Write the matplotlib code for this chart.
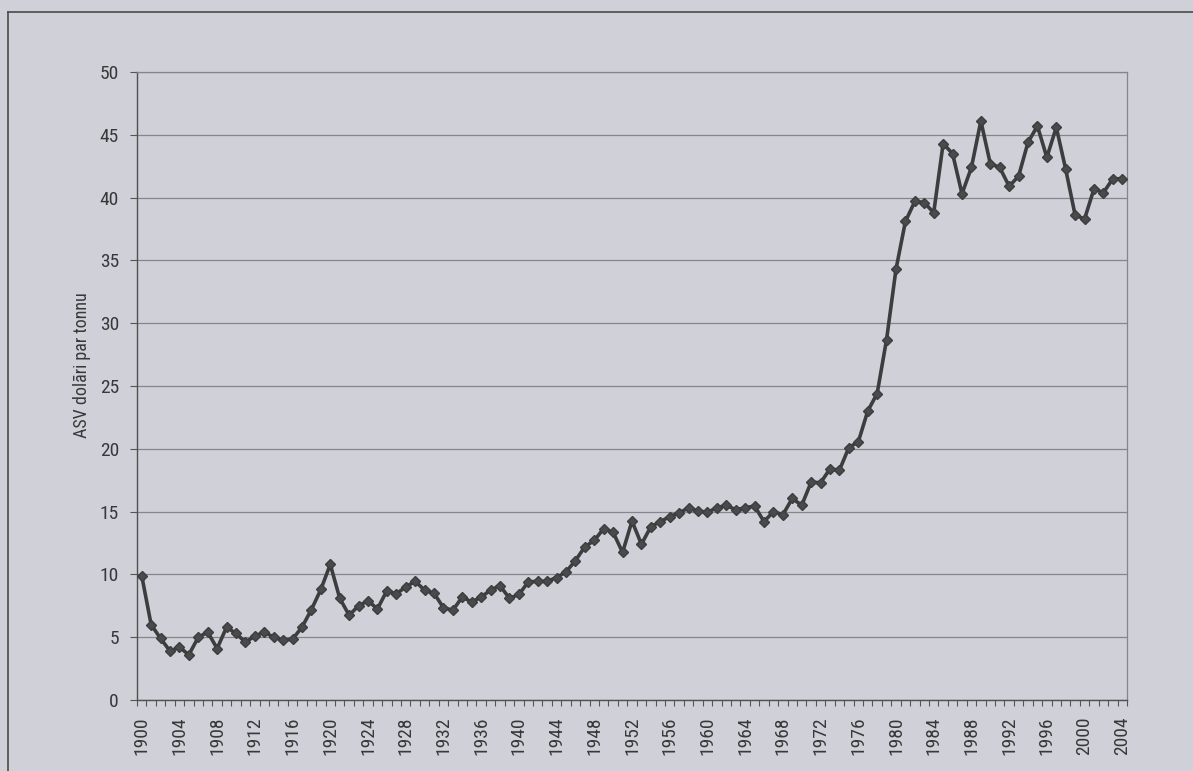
import matplotlib
matplotlib.use("Agg")
import matplotlib.pyplot as plt
from matplotlib.ticker import FixedLocator
from matplotlib.lines import Line2D
import numpy as np

# ---- data ----
years = list(range(1900, 2005))
price = [
    9.9, 6.0, 4.9, 3.9, 4.2, 3.6, 5.0, 5.4, 4.1, 5.8,          # 1900-1909
    5.3, 4.6, 5.1, 5.4, 5.0, 4.75, 4.85, 5.8, 7.2, 8.8,        # 1910-1919
    10.8, 8.1, 6.75, 7.5, 7.9, 7.25, 8.7, 8.45, 9.0, 9.45,     # 1920-1929
    8.75, 8.5, 7.35, 7.15, 8.2, 7.8, 8.2, 8.75, 9.1, 8.1,      # 1930-1939
    8.4, 9.4, 9.45, 9.45, 9.75, 10.2, 11.1, 12.2, 12.7, 13.65, # 1940-1949
    13.35, 11.75, 14.25, 12.4, 13.8, 14.2, 14.6, 14.9, 15.3, 15.05,  # 1950-1959
    14.95, 15.3, 15.5, 15.15, 15.3, 15.45, 14.2, 15.0, 14.75, 16.05, # 1960-1969
    15.5, 17.35, 17.3, 18.4, 18.3, 20.1, 20.55, 23.0, 24.4, 28.7,    # 1970-1979
    34.3, 38.1, 39.7, 39.6, 38.8, 44.3, 43.5, 40.3, 42.4, 46.1,      # 1980-1989
    42.7, 42.4, 40.9, 41.7, 44.4, 45.7, 43.2, 45.6, 42.25, 38.6,     # 1990-1999
    38.3, 40.7, 40.4, 41.5, 41.5,                                    # 2000-2004
]
label_years = list(range(1900, 2005, 4))
y_ticks = list(range(0, 51, 5))
y_label = "ASV dolāri par tonnu"

# ---- style ----
bg = "#d0d0d8"
fam = ["Liberation Sans Narrow", "Roboto Condensed", "Liberation Sans", "DejaVu Sans"]
plt.rcParams["font.family"] = fam
txt = "#38383a"

W, H = 1193, 771
fig = plt.figure(figsize=(W / 100, H / 100), dpi=100, facecolor=bg)
ax = fig.add_axes([137 / W, 1 - 700 / H, (1127 - 137) / W, (700 - 72) / H])
ax.set_facecolor(bg)

ax.plot(years, price, color="#3d3d3f", lw=2.6, marker="D", ms=5,
        markerfacecolor="#4a4a4c", markeredgecolor="#3d3d3f", zorder=3)

ax.set_xlim(1899.5, 2004.5)
ax.set_ylim(0, 50)
ax.yaxis.set_major_locator(FixedLocator(y_ticks))
ax.set_yticklabels([str(v) for v in y_ticks], fontsize=14, color=txt)
ax.grid(axis="y", color="#86868a", lw=0.9, zorder=1)

ax.xaxis.set_major_locator(FixedLocator(label_years))
ax.set_xticklabels([str(y) for y in label_years], rotation=90, fontsize=14,
                   color=txt)
ax.tick_params(axis="x", which="major", length=0, pad=12)
ax.xaxis.set_minor_locator(FixedLocator(np.arange(1899.5, 2005, 1.0)))
ax.tick_params(axis="x", which="minor", length=4, width=0.8, color="#555555")
ax.tick_params(axis="y", length=5, width=0.8, color="#555555", pad=8)

for side in ["left", "bottom"]:
    ax.spines[side].set_color("#505050")
    ax.spines[side].set_linewidth(1.0)
for side in ["right", "top"]:
    ax.spines[side].set_color("#86868a")
    ax.spines[side].set_linewidth(0.9)

fig.text(82 / W, 1 - 365 / H, y_label, rotation=90, ha="center", va="center",
         fontsize=13, color=txt)

# outer chart-area border (left and top visible)
fig.add_artist(Line2D([8 / W, 8 / W], [0, 1 - 12 / H], transform=fig.transFigure,
                      color="#4a4a4a", lw=1.2))
fig.add_artist(Line2D([8 / W, 1], [1 - 12 / H, 1 - 12 / H], transform=fig.transFigure,
                      color="#4a4a4a", lw=1.2))

fig.savefig("out.png", dpi=100, facecolor=bg)
